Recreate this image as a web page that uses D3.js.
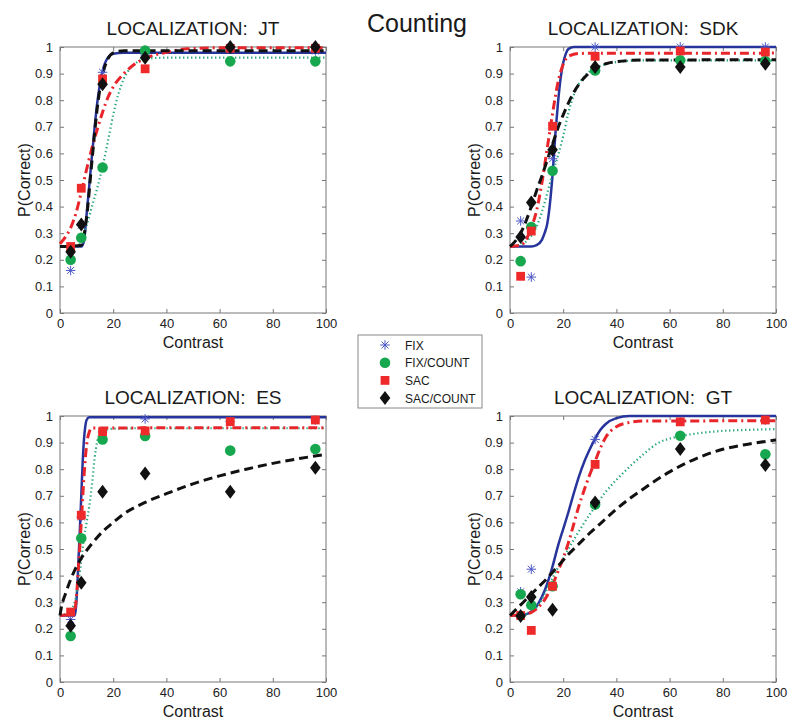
<!DOCTYPE html>
<html>
<head>
<meta charset="utf-8">
<script src="https://cdn.jsdelivr.net/npm/d3@7"></script>
<style>
  body { margin: 0; background: #fff; }
  svg { font-family: "Liberation Sans", Arial, sans-serif; }
</style>
</head>
<body>
<svg id="chart" width="800" height="728"></svg>
<script>
// contrast levels and conditions
var contrasts = [4, 8, 16, 32, 64, 96];
var conditions = ["FIX", "FIX/COUNT", "SAC", "SAC/COUNT"];
var xTicks = [0, 20, 40, 60, 80, 100];
var yTicks = [0, 0.1, 0.2, 0.3, 0.4, 0.5, 0.6, 0.7, 0.8, 0.9, 1];

// P(correct) per condition (rows follow `conditions`)
var jtPoints = [
  [0.16, 0.33, 0.905, 0.97, 0.995, 0.985],
  [0.20, 0.283, 0.547, 0.987, 0.946, 0.946],
  [0.25, 0.469, 0.88, 0.918, 0.995, 0.995],
  [0.23, 0.333, 0.86, 0.96, 1.0, 1.0]
];
var sdkPoints = [
  [0.346, 0.135, 0.58, 1.0, 1.0, 1.0],
  [0.195, 0.323, 0.535, 0.912, 0.95, 0.947],
  [0.138, 0.308, 0.702, 0.965, 0.985, 0.981],
  [0.286, 0.415, 0.614, 0.925, 0.925, 0.937]
];
var esPoints = [
  [0.235, 0.62, 0.94, 0.989, 0.979, 0.985],
  [0.173, 0.54, 0.912, 0.925, 0.87, 0.876],
  [0.263, 0.627, 0.941, 0.944, 0.979, 0.985],
  [0.211, 0.373, 0.715, 0.784, 0.715, 0.805]
];
var gtPoints = [
  [0.339, 0.424, 0.36, 0.912, 0.98, 0.985],
  [0.33, 0.289, 0.36, 0.667, 0.926, 0.856],
  [0.25, 0.194, 0.36, 0.818, 0.978, 0.985],
  [0.248, 0.32, 0.272, 0.675, 0.876, 0.816]
];

// fitted curves, [contrast, P] pairs
var jtCurves = [
  [[0,0.25],[8,0.25],[9,0.27],[10,0.37],[12,0.59],[14,0.79],[16,0.91],[18,0.96],[20,0.975],[24,0.978],[100,0.978]],
  [[0,0.25],[6,0.25],[8,0.27],[10,0.33],[12,0.40],[14,0.47],[16,0.55],[18,0.645],[20,0.745],[22,0.825],[24,0.88],[26,0.915],[28,0.935],[32,0.955],[40,0.96],[100,0.96]],
  [[0,0.26],[2,0.285],[4,0.32],[6,0.375],[8,0.455],[10,0.54],[12,0.62],[14,0.69],[16,0.755],[18,0.81],[20,0.85],[24,0.9],[28,0.935],[32,0.957],[40,0.98],[48,0.993],[60,0.997],[100,0.997]],
  [[0,0.25],[8,0.255],[10,0.36],[12,0.57],[14,0.77],[16,0.895],[18,0.955],[20,0.978],[24,0.986],[100,0.986]]
];
var sdkCurves = [
  [[0,0.25],[8,0.25],[10,0.255],[12,0.275],[13,0.30],[14,0.335],[15,0.41],[16,0.52],[17,0.665],[18,0.785],[19,0.88],[20,0.94],[21,0.975],[22,0.993],[24,1],[100,1]],
  [[0,0.25],[4,0.258],[8,0.29],[10,0.325],[12,0.38],[14,0.45],[16,0.525],[18,0.59],[20,0.665],[22,0.755],[24,0.82],[28,0.89],[32,0.92],[40,0.943],[50,0.95],[100,0.95]],
  [[0,0.25],[4,0.255],[6,0.275],[8,0.32],[10,0.385],[12,0.49],[14,0.62],[16,0.75],[18,0.865],[20,0.935],[22,0.965],[26,0.976],[100,0.977]],
  [[0,0.25],[2,0.27],[4,0.30],[6,0.345],[8,0.40],[10,0.46],[12,0.515],[14,0.575],[16,0.635],[18,0.695],[20,0.745],[22,0.79],[24,0.83],[28,0.885],[32,0.92],[36,0.937],[40,0.945],[50,0.951],[100,0.952]]
];
var esCurves = [
  [[0,0.25],[5.5,0.25],[6,0.28],[6.5,0.36],[7,0.47],[7.5,0.58],[8,0.7],[8.5,0.82],[9,0.91],[9.5,0.96],[10,0.985],[11,0.995],[100,0.995]],
  [[0,0.25],[4,0.27],[6,0.32],[7,0.38],[8,0.46],[9,0.54],[10,0.6],[11,0.66],[12,0.74],[13,0.84],[14,0.905],[15,0.935],[16,0.945],[20,0.952],[30,0.954],[100,0.954]],
  [[0,0.25],[5,0.255],[6,0.3],[7,0.44],[8,0.6],[9,0.77],[10,0.89],[11,0.94],[12,0.955],[100,0.956]],
  [[0,0.25],[0.5,0.28],[1,0.30],[2,0.33],[4,0.385],[6,0.43],[8,0.465],[12,0.52],[16,0.565],[20,0.60],[24,0.632],[32,0.675],[40,0.708],[50,0.745],[60,0.775],[70,0.80],[80,0.822],[90,0.84],[100,0.856]]
];
var gtCurves = [
  [[0,0.25],[6,0.255],[8,0.265],[10,0.285],[12,0.32],[14,0.37],[16,0.435],[18,0.51],[20,0.575],[22,0.64],[24,0.71],[26,0.775],[28,0.83],[30,0.875],[32,0.915],[34,0.948],[36,0.97],[40,0.992],[45,1],[100,1]],
  [[0,0.25],[6,0.255],[10,0.28],[14,0.35],[16,0.39],[18,0.43],[20,0.465],[24,0.535],[28,0.6],[32,0.66],[36,0.715],[40,0.76],[44,0.80],[50,0.855],[56,0.9],[62,0.92],[70,0.934],[80,0.944],[90,0.948],[100,0.951]],
  [[0,0.25],[6,0.255],[8,0.262],[10,0.275],[12,0.295],[14,0.325],[16,0.365],[18,0.415],[20,0.465],[22,0.525],[24,0.595],[26,0.665],[28,0.725],[30,0.78],[32,0.83],[34,0.88],[36,0.92],[40,0.96],[45,0.976],[50,0.981],[100,0.982]],
  [[0,0.25],[2,0.27],[4,0.29],[6,0.31],[8,0.33],[10,0.35],[14,0.39],[18,0.435],[22,0.48],[26,0.52],[30,0.56],[35,0.605],[40,0.65],[50,0.725],[60,0.79],[70,0.84],[80,0.875],[90,0.895],[100,0.91]]
];

var lineColors = ["#26349c", "#23a57a", "#e8252b", "#111111"];
var markColors = ["#4c57c6", "#17a84f", "#ee2a2a", "#111111"];
var dashes = [null, "1.3,2.7", "9,4,2,4", "9,5"];
var widths = [2.5, 2.2, 3, 3];

var panels = [
  { title: "LOCALIZATION:  JT", points: jtPoints, curves: jtCurves, left: 60, top: 47 },
  { title: "LOCALIZATION:  SDK", points: sdkPoints, curves: sdkCurves, left: 510, top: 47 },
  { title: "LOCALIZATION:  ES", points: esPoints, curves: esCurves, left: 60, top: 416 },
  { title: "LOCALIZATION:  GT", points: gtPoints, curves: gtCurves, left: 510, top: 416 }
];
var pw = 266, ph = 266;

var svg = d3.select("#chart");

// one marker of the given condition
function drawMarker(g, i, x, y) {
  var c = markColors[i];
  if (i == 0) {
    var r = 4.8, d = r * 0.72;
    g.append("path")
      .attr("d", "M" + (x - r) + "," + y + "H" + (x + r) + "M" + x + "," + (y - r) + "V" + (y + r) +
        "M" + (x - d) + "," + (y - d) + "L" + (x + d) + "," + (y + d) +
        "M" + (x - d) + "," + (y + d) + "L" + (x + d) + "," + (y - d))
      .attr("stroke", c).attr("stroke-width", 1).attr("fill", "none");
  } else if (i == 1) {
    g.append("circle").attr("cx", x).attr("cy", y).attr("r", 5.3).attr("fill", c);
  } else if (i == 2) {
    g.append("rect").attr("x", x - 4.4).attr("y", y - 4.4).attr("width", 8.8).attr("height", 8.8).attr("fill", c);
  } else {
    g.append("path")
      .attr("d", "M" + x + "," + (y - 7) + "L" + (x + 5.3) + "," + y + "L" + x + "," + (y + 7) + "L" + (x - 5.3) + "," + y + "Z")
      .attr("fill", c);
  }
}

panels.forEach(function (p) {
  var x = d3.scaleLinear().domain([0, 100]).range([0, pw]);
  var y = d3.scaleLinear().domain([0, 1]).range([ph, 0]);
  var g = svg.append("g").attr("transform", "translate(" + p.left + "," + p.top + ")");

  g.append("rect").attr("width", pw).attr("height", ph)
    .attr("fill", "#fff").attr("stroke", "#777").attr("stroke-width", 1);

  var fmt = d3.format("~g");
  var xa = g.append("g").attr("transform", "translate(0," + ph + ")")
    .call(d3.axisBottom(x).tickValues(xTicks).tickSizeInner(-4).tickSizeOuter(0).tickPadding(6).tickFormat(fmt));
  var ya = g.append("g")
    .call(d3.axisLeft(y).tickValues(yTicks).tickSizeInner(-4).tickSizeOuter(0).tickPadding(7).tickFormat(fmt));
  var xt = g.append("g")
    .call(d3.axisTop(x).tickValues(xTicks).tickSizeInner(-4).tickSizeOuter(0).tickFormat(""));
  var yr = g.append("g").attr("transform", "translate(" + pw + ",0)")
    .call(d3.axisRight(y).tickValues(yTicks).tickSizeInner(-4).tickSizeOuter(0).tickFormat(""));
  [xa, ya, xt, yr].forEach(function (a) {
    a.select(".domain").remove();
    a.selectAll(".tick line").attr("stroke", "#777");
    a.selectAll("text").attr("fill", "#222").style("font-size", "13px").style("font-family", "'Liberation Sans', Arial, sans-serif");
  });

  // title and axis labels
  g.append("text").attr("x", pw / 2).attr("y", -12).attr("text-anchor", "middle")
    .style("font-size", "19px").style("white-space", "pre").attr("fill", "#1a1a1a").text(p.title);
  g.append("text").attr("x", pw / 2).attr("y", ph + 35).attr("text-anchor", "middle")
    .style("font-size", "16px").attr("fill", "#1a1a1a").text("Contrast");
  g.append("text").attr("transform", "translate(-30," + ph / 2 + ") rotate(-90)")
    .attr("text-anchor", "middle").style("font-size", "16px").attr("fill", "#1a1a1a").text("P(Correct)");

  var line = d3.line().x(function (d) { return x(d[0]); }).y(function (d) { return y(d[1]); })
    .curve(d3.curveMonotoneX);

  p.curves.forEach(function (c, i) {
    g.append("path").attr("d", line(c)).attr("fill", "none")
      .attr("stroke", lineColors[i]).attr("stroke-width", widths[i])
      .attr("stroke-dasharray", dashes[i]);
  });

  p.points.forEach(function (row, i) {
    row.forEach(function (v, j) {
      drawMarker(g, i, x(contrasts[j]), y(v));
    });
  });
});

// figure title
svg.append("text").attr("x", 417).attr("y", 32).attr("text-anchor", "middle")
  .style("font-size", "25px").attr("fill", "#1a1a1a").text("Counting");

// legend (markers only)
var lg = svg.append("g").attr("transform", "translate(358,335)");
lg.append("rect").attr("width", 124).attr("height", 73)
  .attr("fill", "#fff").attr("stroke", "#888").attr("stroke-width", 1);
conditions.forEach(function (name, i) {
  var yy = 10 + i * 17.7;
  drawMarker(lg, i, 27, yy);
  lg.append("text").attr("x", 47).attr("y", yy + 4.5)
    .style("font-size", "12px").attr("fill", "#1a1a1a").text(name);
});
</script>
</body>
</html>
